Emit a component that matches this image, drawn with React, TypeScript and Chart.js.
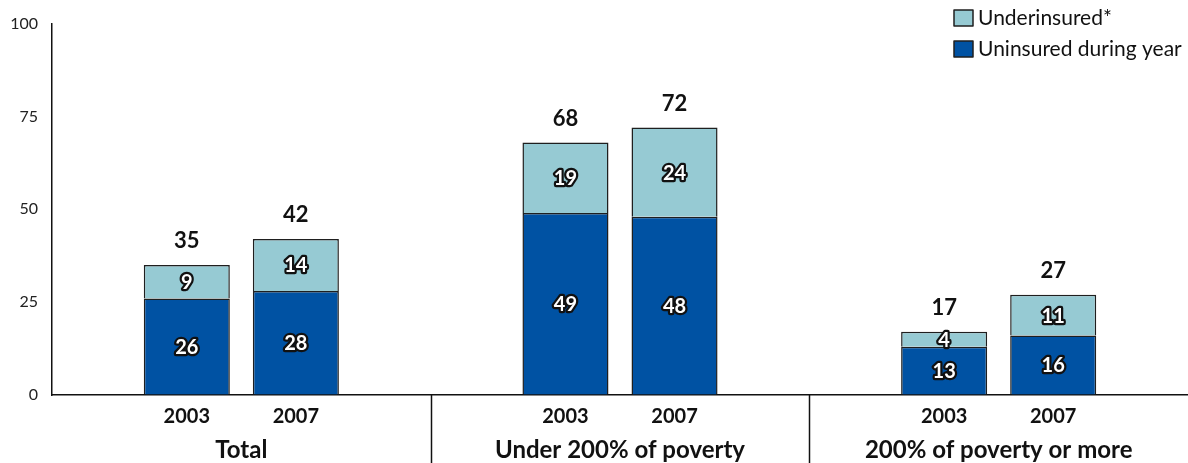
import React, { useEffect, useRef } from 'react';
import { Chart, registerables } from 'chart.js';

Chart.register(...registerables);

const groups = ['Total', 'Under 200% of poverty', '200% of poverty or more'];
const years = ['2003', '2007'];
const uninsured2003 = [26, 49, 13];
const underinsured2003 = [9, 19, 4];
const uninsured2007 = [28, 48, 16];
const underinsured2007 = [14, 24, 11];
const totals2003 = [35, 68, 17];
const totals2007 = [42, 72, 27];
const yTicks = [0, 25, 50, 75, 100];
const seriesNames = ['Underinsured*', 'Uninsured during year'];

const DARK = '#0052a3';
const LIGHT = '#96cad3';
const EDGE = '#1f1f1f';
const FONT = 'Lato, "Open Sans", sans-serif';

const overlayPlugin = {
  id: 'overlay',
  afterDatasetsDraw(chart: any) {
    const ctx = chart.ctx;
    const area = chart.chartArea;
    ctx.save();
    // value labels inside segments
    chart.data.datasets.forEach((ds: any, i: number) => {
      const meta = chart.getDatasetMeta(i);
      meta.data.forEach((el: any, j: number) => {
        const v = ds.data[j];
        const cy = (el.y + el.base) / 2;
        ctx.font = `bold 20px ${FONT}`;
        ctx.textAlign = 'center';
        ctx.textBaseline = 'middle';
        ctx.lineJoin = 'round';
        ctx.lineWidth = 4.5;
        ctx.strokeStyle = '#111';
        ctx.strokeText(String(v), el.x, cy + 1);
        ctx.fillStyle = '#fff';
        ctx.fillText(String(v), el.x, cy + 1);
      });
    });
    // totals and year labels
    const stacks = [
      { top: 1, totals: totals2003, year: years[0] },
      { top: 3, totals: totals2007, year: years[1] },
    ];
    stacks.forEach((s) => {
      const meta = chart.getDatasetMeta(s.top);
      meta.data.forEach((el: any, j: number) => {
        ctx.font = `bold 22px ${FONT}`;
        ctx.fillStyle = '#111';
        ctx.textAlign = 'center';
        ctx.textBaseline = 'middle';
        ctx.fillText(String(s.totals[j]), el.x, el.y - 24);
        ctx.font = `bold 20px ${FONT}`;
        ctx.fillText(s.year, el.x, area.bottom + 22);
      });
    });
    // group separators
    const xs = chart.scales.x;
    ctx.strokeStyle = '#111';
    ctx.lineWidth = 1.5;
    for (let i = 1; i < groups.length; i++) {
      const x = Math.round((xs.getPixelForValue(i - 1) + xs.getPixelForValue(i)) / 2) + 0.5;
      ctx.beginPath();
      ctx.moveTo(x, area.bottom);
      ctx.lineTo(x, chart.height);
      ctx.stroke();
    }
    // legend
    const items = [
      { label: seriesNames[0], color: LIGHT },
      { label: seriesNames[1], color: DARK },
    ];
    items.forEach((it, k) => {
      const y = 10 + k * 31;
      ctx.fillStyle = it.color;
      ctx.fillRect(954, y, 19, 16);
      ctx.strokeStyle = EDGE;
      ctx.lineWidth = 1.5;
      ctx.strokeRect(954, y, 19, 16);
      ctx.fillStyle = '#111';
      ctx.font = `21px ${FONT}`;
      ctx.textAlign = 'left';
      ctx.textBaseline = 'middle';
      ctx.fillText(it.label, 978, y + 8);
    });
    ctx.restore();
  },
};

export default function App() {
  const ref = useRef<HTMLCanvasElement | null>(null);
  useEffect(() => {
    if (!ref.current) return;
    const chart = new Chart(ref.current, {
      type: 'bar',
      data: {
        labels: groups,
        datasets: [
          { label: seriesNames[1], data: uninsured2003, stack: years[0], backgroundColor: DARK, borderColor: EDGE, borderWidth: 1.5 },
          { label: seriesNames[0], data: underinsured2003, stack: years[0], backgroundColor: LIGHT, borderColor: EDGE, borderWidth: 1.5 },
          { label: seriesNames[1], data: uninsured2007, stack: years[1], backgroundColor: DARK, borderColor: EDGE, borderWidth: 1.5 },
          { label: seriesNames[0], data: underinsured2007, stack: years[1], backgroundColor: LIGHT, borderColor: EDGE, borderWidth: 1.5 },
        ],
      },
      options: {
        animation: false,
        responsive: false,
        maintainAspectRatio: false,
        categoryPercentage: 0.576,
        barPercentage: 0.789,
        layout: { padding: { top: 18, right: 0, left: 0, bottom: 0 } },
        plugins: { legend: { display: false }, tooltip: { enabled: false } },
        scales: {
          x: {
            type: 'category',
            stacked: true,
            grid: { display: true, drawOnChartArea: false, drawTicks: false },
            border: { display: true, color: '#111', width: 1.5 },
            ticks: { color: '#111', font: { family: FONT, size: 24, weight: 'bold' }, padding: 41, maxRotation: 0 },
            afterFit: (s: any) => { s.height = 68; },
          },
          y: {
            stacked: true,
            min: 0,
            max: 100,
            afterBuildTicks: (s: any) => { s.ticks = yTicks.map((v) => ({ value: v })); },
            grid: { display: true, drawOnChartArea: false, drawTicks: false },
            border: { display: true, color: '#111', width: 1.5 },
            ticks: { color: '#222', font: { family: FONT, size: 16 }, padding: 14 },
            afterFit: (s: any) => { s.width = 52; },
          },
        },
      },
      plugins: [overlayPlugin],
    });
    return () => chart.destroy();
  }, []);
  return (
    <div style={{ position: 'fixed', left: 0, top: 0, width: 1188, height: 463, background: '#fff' }}>
      <canvas ref={ref} width={1188} height={463} />
    </div>
  );
}
